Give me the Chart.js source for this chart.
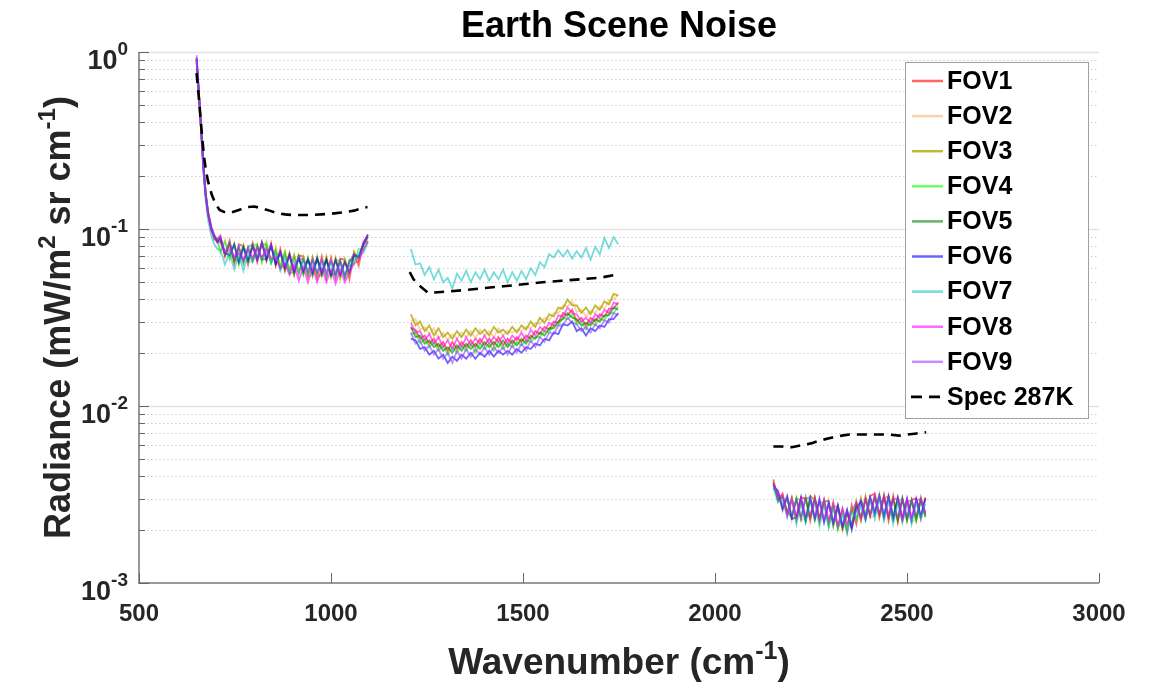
<!DOCTYPE html>
<html><head><meta charset="utf-8">
<script src="https://cdn.jsdelivr.net/npm/chart.js@4.4.0/dist/chart.umd.min.js"></script>
<style>html,body{margin:0;padding:0;background:#fff}#wrap{width:1158px;height:687px}</style>
</head><body><div id="wrap"><canvas id="c" width="1158" height="687"></canvas></div>
<script>
// ---------- categories (wavenumber, cm-1) ----------
const wnB1 = [650,656,662,668,674,680,688,696,704,712,724,736,748,760,772,784,796,808,820,832,844,856,868,880,892,904,916,928,940,952,964,976,988,1000,1012,1024,1036,1048,1060,1072,1084,1096];
const wnB2 = [1208,1220,1232,1244,1256,1268,1280,1292,1304,1316,1328,1340,1352,1364,1376,1388,1400,1412,1424,1436,1448,1460,1472,1484,1496,1508,1520,1532,1544,1556,1568,1580,1592,1604,1616,1628,1640,1652,1664,1676,1688,1700,1712,1724,1736,1748];
const wnB3 = [2152,2164,2176,2188,2200,2212,2224,2236,2248,2260,2272,2284,2296,2308,2320,2332,2344,2356,2368,2380,2392,2404,2416,2428,2440,2452,2464,2476,2488,2500,2512,2524,2536,2548];

// ---------- FOV noise values, in units of 1e-5 mW/(m2 sr cm-1) ----------
const UNIT = 1e-5;
const fov1B1 = [90000,57000,35500,21500,15200,12500,10300,8700,8800,9200,7000,8600,6400,8200,8000,6300,8300,6500,8400,6600,8300,6200,7700,5800,7300,5500,7100,7000,5400,6900,5300,7000,5300,6900,5300,6800,6700,5200,7300,6200,8300,9300];
const fov2B1 = [88000,56000,35000,22500,15800,12000,9800,9200,8300,7300,8700,6700,8300,6300,8100,6400,6600,8200,6500,8500,6500,8000,6000,7500,5700,7200,5500,7000,5400,5500,7100,5400,7000,5300,6900,5200,6800,5400,7500,6400,8600,8400];
const fov3B1 = [91000,59000,37000,22000,16000,12400,10100,9100,8600,8800,7200,8400,6600,6700,8100,6600,8200,6800,8300,8100,6500,7600,6100,7400,5800,7100,5700,6900,5500,6800,5400,5500,6900,5400,6800,5300,6700,5500,7400,6600,8100,9000];
const fov4B1 = [89000,58000,36500,21800,15300,12100,10200,8800,8700,7500,8500,6800,8200,6300,7900,6500,8100,8200,6500,8300,6400,7600,6000,7300,5600,5700,7100,5500,6900,5400,6900,5500,6800,5400,6700,6600,5300,6700,6300,7700,7600,8500];
const fov5B1 = [90000,57500,36000,22200,15600,12300,9900,9100,8400,8600,7100,8200,6600,7800,6400,7900,6600,8000,6700,6800,8000,6400,7400,5900,7200,5600,7000,5600,6800,5500,6800,5500,6700,5500,5600,6600,5300,6600,7000,7000,8200,9000];
const fov6B1 = [93000,58500,36000,21800,15000,12000,10100,9100,8500,8900,7300,7100,8200,6500,7900,6600,8000,6700,8400,6700,8100,6300,7400,6100,7100,5800,6800,5800,6700,5700,6800,5700,6700,5500,6700,5500,6500,5700,7200,6900,8200,9300];
const fov7B1 = [91000,56000,34000,20500,14200,11200,9200,8200,7700,7600,6300,7400,5900,7200,5800,7300,6500,7500,6800,7600,6400,7300,5800,6900,5700,6800,5600,6700,5500,6600,5600,6500,5400,6500,5300,6500,5400,6200,6600,7200,7300,8400];
const fov8B1 = [92000,58000,35500,21500,15200,12000,9900,9000,8400,8400,7300,7700,7000,7300,6700,7600,6900,7800,6900,7700,6800,6900,6000,6400,5500,6300,5100,6100,5000,6100,5000,6000,5000,5900,4900,5900,5000,5700,6400,6600,7700,8600];
const fov9B1 = [96000,60000,37000,22500,15700,12500,10400,9300,8700,9000,7400,8400,6800,8000,6600,7900,8200,6800,8200,7100,8100,6700,7400,6200,7000,5900,6900,6700,5800,6700,5700,6700,5700,6600,5600,6600,5500,6500,7200,6900,8300,9200];

const fov1B2 = [2750,2700,2400,2500,2250,2400,2150,2300,2050,2300,2100,2300,2150,2350,2150,2400,2200,2400,2200,2450,2200,2400,2250,2450,2300,2500,2400,2650,2550,2800,2700,3000,2950,3350,3250,3500,3000,3150,2850,3150,3000,3300,3200,3550,3550,3850];
const fov2B2 = [3000,3100,2700,2800,2550,2750,2400,2600,2350,2550,2400,2600,2450,2650,2400,2700,2500,2650,2450,2750,2500,2650,2600,2700,2650,2800,2750,2950,2900,3150,3050,3350,3350,3700,3650,3900,3400,3500,3200,3450,3350,3650,3550,3950,4000,4250];
const fov3B2 = [3300,2850,3000,2650,2850,2500,2750,2450,2600,2400,2650,2450,2700,2500,2750,2550,2700,2500,2800,2600,2700,2550,2800,2600,2850,2700,3000,2800,3150,2950,3300,3200,3600,3550,4000,3700,3700,3350,3600,3300,3700,3500,3900,3750,4300,4200];
const fov4B2 = [2550,2600,2250,2400,2150,2300,2050,2200,1950,2150,2000,2200,2050,2250,2000,2250,2100,2250,2050,2300,2100,2250,2150,2300,2200,2350,2300,2450,2450,2650,2600,2850,2850,3150,3100,3300,2900,3000,2700,3000,2850,3100,3050,3350,3350,3650];
const fov5B2 = [2800,2450,2500,2250,2350,2150,2250,2050,2150,2000,2200,2050,2250,2100,2250,2100,2300,2150,2300,2150,2350,2150,2350,2200,2400,2250,2500,2400,2600,2500,2750,2750,3000,3100,3350,3150,3100,2850,2950,2850,3100,3000,3250,3250,3600,3500];
const fov6B2 = [2400,2350,2100,2150,1950,2050,1850,1950,1750,1900,1800,1950,1850,2000,1850,2000,1900,2050,1900,2050,1950,2050,1950,2100,2000,2150,2100,2250,2200,2400,2350,2600,2550,2900,2850,3000,2650,2750,2500,2750,2650,2850,2800,3100,3100,3350];
const fov7B2 = [7700,6300,6400,5500,6100,5200,5900,5000,5300,4600,5600,5100,5800,5000,5700,5200,5900,5100,5700,5200,5900,5000,5700,5100,5800,5200,6000,5500,6500,6100,7200,6900,7600,7000,7600,6800,7500,6900,7800,6700,7900,7200,8900,7800,9000,8200];
const fov8B2 = [2950,2600,2650,2350,2550,2250,2450,2150,2350,2100,2400,2150,2450,2200,2400,2250,2500,2250,2450,2300,2500,2250,2500,2350,2600,2350,2700,2500,2800,2650,2950,2850,3250,3200,3600,3350,3300,3000,3150,2950,3300,3150,3500,3350,3850,3750];
const fov9B2 = [2600,2250,2350,2050,2200,1950,2100,1850,2000,1750,2050,1850,2100,1900,2100,1950,2150,1950,2150,2000,2150,1950,2200,2000,2250,2050,2350,2150,2450,2300,2600,2550,2850,2850,3150,2950,2900,2650,2800,2600,2900,2750,3050,2950,3350,3250];

const fov1B3 = [385,290,320,245,300,230,305,300,225,305,230,295,215,285,205,260,195,275,215,300,230,310,320,235,315,225,310,220,300,225,295,300,230,305];
const fov2B3 = [345,335,255,305,225,300,225,235,300,230,290,220,295,210,275,200,250,205,285,225,300,235,240,320,230,305,230,300,225,295,220,230,300,240];
const fov3B3 = [375,300,310,250,305,225,290,225,310,295,220,290,220,270,270,200,255,210,290,225,310,240,310,235,300,310,230,300,225,290,290,225,305,245];
const fov4B3 = [340,320,265,300,235,300,295,225,300,225,285,285,210,275,200,255,205,265,225,295,245,305,250,315,240,300,240,295,295,225,290,225,290,240];
const fov5B3 = [365,295,305,255,235,300,230,305,235,300,230,290,290,210,270,205,245,210,280,235,295,240,305,245,305,235,300,225,300,230,295,230,295,235];
const fov6B3 = [355,330,260,310,230,235,305,225,300,230,300,220,280,220,275,210,260,200,265,290,230,305,245,310,235,310,230,305,230,300,225,300,240,300];
const fov7B3 = [345,285,300,235,295,215,285,220,290,280,210,280,205,265,205,245,190,250,235,270,225,295,230,300,225,290,215,285,220,280,215,285,230,280];
const fov8B3 = [370,305,315,240,300,235,300,240,240,300,230,295,225,280,210,265,215,255,285,230,300,240,315,245,310,240,300,300,230,295,235,290,300,250];
const fov9B3 = [360,325,275,300,240,295,235,300,305,235,290,230,285,220,265,210,255,215,255,285,240,305,255,310,245,305,245,240,300,235,295,240,295,245];

// ---------- Spec 287K (mW/(m2 sr cm-1)) ----------
const specWnB1 = [650,655,660,665,670,675,680,690,700,710,725,740,760,780,800,820,840,860,880,900,950,1000,1030,1060,1080,1095];
const specB1 = [0.76,0.58,0.43,0.32,0.25,0.21,0.185,0.155,0.138,0.128,0.124,0.124,0.128,0.133,0.134,0.131,0.127,0.123,0.121,0.120,0.120,0.122,0.124,0.127,0.131,0.133];
const specWnB2 = [1205,1215,1225,1240,1253,1270,1300,1350,1400,1450,1500,1550,1600,1650,1700,1750];
const specB2 = [0.057,0.052,0.049,0.046,0.0436,0.0438,0.0443,0.0452,0.0464,0.0475,0.0487,0.050,0.051,0.052,0.053,0.0555];
const specWnB3 = [2152,2175,2200,2225,2250,2275,2300,2330,2350,2400,2450,2480,2500,2525,2550];
const specB3 = [0.0059,0.0059,0.00585,0.0060,0.00615,0.0064,0.0066,0.0068,0.0069,0.0069,0.0069,0.0068,0.0069,0.0070,0.0071];

// ---------- ticks / labels ----------
const xTicks = [500,1000,1500,2000,2500,3000];
const yTicks = [0.001,0.01,0.1,1];
const yTickExp = ['-3','-2','-1','0'];
const seriesNames = ['FOV1','FOV2','FOV3','FOV4','FOV5','FOV6','FOV7','FOV8','FOV9'];
const specName = 'Spec 287K';
const titleText = 'Earth Scene Noise';

const fovColors = ['rgba(255,0,0,0.6)','rgba(255,150,60,0.45)','rgba(170,170,0,0.8)','rgba(0,255,0,0.6)','rgba(0,128,0,0.6)','rgba(0,0,255,0.6)','rgba(0,190,190,0.55)','rgba(255,0,255,0.6)','rgba(150,50,255,0.55)'];

const fovData = [
  [fov1B1,fov1B2,fov1B3],[fov2B1,fov2B2,fov2B3],[fov3B1,fov3B2,fov3B3],
  [fov4B1,fov4B2,fov4B3],[fov5B1,fov5B2,fov5B3],[fov6B1,fov6B2,fov6B3],
  [fov7B1,fov7B2,fov7B3],[fov8B1,fov8B2,fov8B3],[fov9B1,fov9B2,fov9B3]
];

function joinBands(xsList, ysList, k) {
  const out = [];
  xsList.forEach((xs, b) => {
    xs.forEach((x, i) => out.push({x: x, y: ysList[b][i] * k}));
    if (b < xsList.length - 1) out.push({x: (xs[xs.length-1] + xsList[b+1][0]) / 2, y: null});
  });
  return out;
}

const datasets = fovData.map((bands, i) => ({
  label: seriesNames[i],
  data: joinBands([wnB1, wnB2, wnB3], bands, UNIT),
  borderColor: fovColors[i],
  borderWidth: 1.8,
  pointRadius: 0,
  tension: 0,
  spanGaps: false,
  order: 9 - i + 1
}));
datasets.push({
  label: specName,
  data: joinBands([specWnB1, specWnB2, specWnB3], [specB1, specB2, specB3], 1),
  borderColor: '#000',
  borderWidth: 2.6,
  borderDash: [10, 7],
  pointRadius: 0,
  tension: 0,
  spanGaps: false,
  order: 0
});

const FONT = "'Liberation Sans', Arial, Helvetica, sans-serif";

function drawRich(ctx, parts, size, x, y, align, supRatio, raise) {
  const supSize = Math.round(size * supRatio);
  let total = 0;
  const widths = parts.map(p => { ctx.font = 'bold ' + (p[1] ? supSize : size) + 'px ' + FONT; const w = ctx.measureText(p[0]).width; total += w; return w; });
  let cx = align === 'center' ? x - total / 2 : (align === 'right' ? x - total : x);
  ctx.textAlign = 'left'; ctx.textBaseline = 'alphabetic';
  parts.forEach((p, i) => {
    ctx.font = 'bold ' + (p[1] ? supSize : size) + 'px ' + FONT;
    ctx.fillText(p[0], cx, p[1] ? y - raise : y);
    cx += widths[i];
  });
}

const deco = {
  id: 'deco',
  beforeDatasetsDraw(chart) {
    const {ctx, chartArea: a, scales: {x, y}} = chart;
    ctx.save();
    ctx.lineWidth = 1;
    ctx.strokeStyle = '#cdcdcd';
    ctx.setLineDash([1.5, 2.5]);
    for (let d = 0; d < yTicks.length - 1; d++) {
      for (let m = 2; m <= 9; m++) {
        const py = Math.round(y.getPixelForValue(yTicks[d] * m)) + 0.5;
        ctx.beginPath(); ctx.moveTo(a.left, py); ctx.lineTo(a.right, py); ctx.stroke();
      }
    }
    ctx.setLineDash([]);
    ctx.strokeStyle = '#e2e2e2';
    ctx.lineWidth = 1.5;
    for (let d = 1; d < yTicks.length; d++) {
      const py = Math.round(y.getPixelForValue(yTicks[d])) + 0.5;
      ctx.beginPath(); ctx.moveTo(a.left, py); ctx.lineTo(a.right, py); ctx.stroke();
    }
    ctx.restore();
  },
  afterDraw(chart) {
    const {ctx, chartArea: a, scales: {x, y}} = chart;
    ctx.save();
    // axes
    ctx.strokeStyle = '#999';
    ctx.lineWidth = 2;
    ctx.beginPath(); ctx.moveTo(a.left, a.top); ctx.lineTo(a.left, a.bottom); ctx.lineTo(a.right, a.bottom); ctx.stroke();
    // ticks
    ctx.strokeStyle = '#666';
    ctx.lineWidth = 1;
    xTicks.forEach(v => {
      const px = Math.round(x.getPixelForValue(v)) + 0.5;
      ctx.beginPath(); ctx.moveTo(px, a.bottom); ctx.lineTo(px, a.bottom - 10); ctx.stroke();
    });
    for (let d = 0; d < yTicks.length; d++) {
      const py = Math.round(y.getPixelForValue(yTicks[d])) + 0.5;
      ctx.beginPath(); ctx.moveTo(a.left, py); ctx.lineTo(a.left + 10, py); ctx.stroke();
      if (d < yTicks.length - 1) {
        for (let m = 2; m <= 9; m++) {
          const pm = Math.round(y.getPixelForValue(yTicks[d] * m)) + 0.5;
          ctx.beginPath(); ctx.moveTo(a.left, pm); ctx.lineTo(a.left + 6, pm); ctx.stroke();
        }
      }
    }
    // tick labels
    ctx.fillStyle = '#262626';
    ctx.font = 'bold 24px ' + FONT;
    ctx.textAlign = 'center'; ctx.textBaseline = 'alphabetic';
    xTicks.forEach(v => ctx.fillText(String(v), x.getPixelForValue(v), 621));
    yTicks.forEach((v, i) => {
      const py = y.getPixelForValue(v);
      drawRich(ctx, [['10', false], [yTickExp[i], true]], 27, a.left - 11, py + 17, 'right', 0.7, 14.5);
    });
    // axis titles
    ctx.fillStyle = '#262626';
    drawRich(ctx, [['Wavenumber (cm', false], ['-1', true], [')', false]], 37, (a.left + a.right) / 2, 674, 'center', 0.68, 15);
    ctx.save();
    ctx.translate(70, (a.top + a.bottom) / 2);
    ctx.rotate(-Math.PI / 2);
    drawRich(ctx, [['Radiance (mW/m', false], ['2', true], [' sr cm', false], ['-1', true], [')', false]], 36, 0, 0, 'center', 0.68, 15);
    ctx.restore();
    // title
    ctx.fillStyle = '#000';
    ctx.font = 'bold 36px ' + FONT;
    ctx.textAlign = 'center';
    ctx.fillText(titleText, (a.left + a.right) / 2, 37);
    // legend
    const lx = 905.5, ly = 62.5, lw = 183, lh = 356;
    ctx.fillStyle = '#fff';
    ctx.fillRect(lx, ly, lw, lh);
    ctx.strokeStyle = '#a0a0a0'; ctx.lineWidth = 1;
    ctx.strokeRect(lx, ly, lw, lh);
    const names = seriesNames.concat([specName]);
    names.forEach((n, i) => {
      const yy = 81 + i * 35.1;
      ctx.beginPath();
      if (i < seriesNames.length) {
        ctx.strokeStyle = fovColors[i]; ctx.lineWidth = 2.5; ctx.setLineDash([]);
        ctx.moveTo(912, yy); ctx.lineTo(943, yy);
      } else {
        ctx.strokeStyle = '#000'; ctx.lineWidth = 2.6; ctx.setLineDash([11, 7]);
        ctx.moveTo(911, yy); ctx.lineTo(943, yy);
      }
      ctx.stroke();
      ctx.setLineDash([]);
      ctx.fillStyle = '#000';
      ctx.font = 'bold 25px ' + FONT;
      ctx.textAlign = 'left'; ctx.textBaseline = 'middle';
      ctx.fillText(n, 947, yy + 1);
    });
    ctx.restore();
  }
};

new Chart(document.getElementById('c'), {
  type: 'line',
  data: { datasets: datasets },
  options: {
    responsive: false,
    animation: false,
    devicePixelRatio: 1,
    layout: { padding: { left: 0, right: 59, top: 52, bottom: 0 } },
    plugins: { legend: { display: false }, title: { display: false }, tooltip: { enabled: false } },
    scales: {
      x: {
        type: 'linear', min: 500, max: 3000,
        ticks: { display: false }, grid: { display: false }, border: { display: false },
        afterFit: s => { s.height = 104; }
      },
      y: {
        type: 'logarithmic', min: 0.001, max: 1,
        ticks: { display: false }, grid: { display: false }, border: { display: false },
        afterFit: s => { s.width = 139; }
      }
    }
  },
  plugins: [deco]
});
</script>
</body></html>
